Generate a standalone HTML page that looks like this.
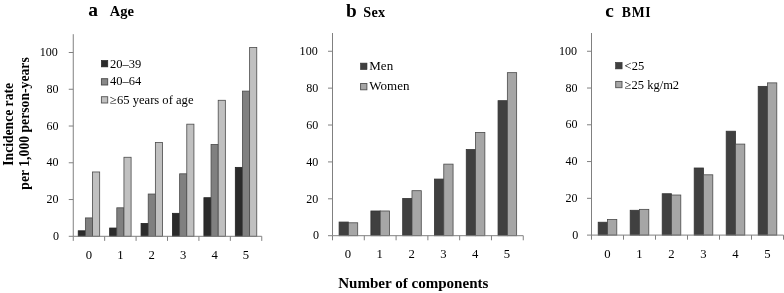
<!DOCTYPE html>
<html><head><meta charset="utf-8"><title>Incidence rate by number of components</title>
<style>
html,body{margin:0;padding:0;background:#fff;}
svg{display:block}
.t{font-family:"Liberation Serif",serif;font-size:12.7px;fill:#000;}
.l{font-family:"Liberation Serif",serif;font-size:12.5px;fill:#000;}
.b{font-family:"Liberation Serif",serif;font-weight:bold;fill:#000;}
</style></head><body>
<svg width="784" height="293" viewBox="0 0 784 293">
<rect width="784" height="293" fill="#fff"/>
<rect x="78.23" y="230.79" width="7.15" height="5.51" fill="#2b2b2b" stroke="#222" stroke-width="0.8"/>
<rect x="85.38" y="217.92" width="7.15" height="18.38" fill="#808080" stroke="#4a4a4a" stroke-width="0.8"/>
<rect x="92.53" y="171.97" width="7.15" height="64.33" fill="#c0c0c0" stroke="#4a4a4a" stroke-width="0.8"/>
<rect x="109.65" y="228.03" width="7.15" height="8.27" fill="#2b2b2b" stroke="#222" stroke-width="0.8"/>
<rect x="116.80" y="207.81" width="7.15" height="28.49" fill="#808080" stroke="#4a4a4a" stroke-width="0.8"/>
<rect x="123.95" y="157.27" width="7.15" height="79.03" fill="#c0c0c0" stroke="#4a4a4a" stroke-width="0.8"/>
<rect x="141.07" y="223.43" width="7.15" height="12.87" fill="#2b2b2b" stroke="#222" stroke-width="0.8"/>
<rect x="148.22" y="194.03" width="7.15" height="42.27" fill="#808080" stroke="#4a4a4a" stroke-width="0.8"/>
<rect x="155.37" y="142.56" width="7.15" height="93.74" fill="#c0c0c0" stroke="#4a4a4a" stroke-width="0.8"/>
<rect x="172.48" y="213.33" width="7.15" height="22.98" fill="#2b2b2b" stroke="#222" stroke-width="0.8"/>
<rect x="179.63" y="173.81" width="7.15" height="62.49" fill="#808080" stroke="#4a4a4a" stroke-width="0.8"/>
<rect x="186.78" y="124.18" width="7.15" height="112.12" fill="#c0c0c0" stroke="#4a4a4a" stroke-width="0.8"/>
<rect x="203.90" y="197.70" width="7.15" height="38.60" fill="#2b2b2b" stroke="#222" stroke-width="0.8"/>
<rect x="211.05" y="144.40" width="7.15" height="91.90" fill="#808080" stroke="#4a4a4a" stroke-width="0.8"/>
<rect x="218.20" y="100.29" width="7.15" height="136.01" fill="#c0c0c0" stroke="#4a4a4a" stroke-width="0.8"/>
<rect x="235.32" y="167.38" width="7.15" height="68.92" fill="#2b2b2b" stroke="#222" stroke-width="0.8"/>
<rect x="242.47" y="91.10" width="7.15" height="145.20" fill="#808080" stroke="#4a4a4a" stroke-width="0.8"/>
<rect x="249.62" y="47.54" width="7.15" height="188.76" fill="#c0c0c0" stroke="#4a4a4a" stroke-width="0.8"/>
<line x1="73.25" y1="34.2" x2="73.25" y2="236.3" stroke="#808080" stroke-width="1"/>
<line x1="73.25" y1="236.3" x2="261.75" y2="236.3" stroke="#808080" stroke-width="1"/>
<line x1="68.75" y1="236.30" x2="73.25" y2="236.30" stroke="#808080" stroke-width="1"/>
<text x="59.10" y="240.00" text-anchor="end" class="t" textLength="6.03" lengthAdjust="spacingAndGlyphs">0</text>
<line x1="68.75" y1="199.54" x2="73.25" y2="199.54" stroke="#808080" stroke-width="1"/>
<text x="58.45" y="203.24" text-anchor="end" class="t" textLength="12.06" lengthAdjust="spacingAndGlyphs">20</text>
<line x1="68.75" y1="162.78" x2="73.25" y2="162.78" stroke="#808080" stroke-width="1"/>
<text x="58.45" y="166.48" text-anchor="end" class="t" textLength="12.06" lengthAdjust="spacingAndGlyphs">40</text>
<line x1="68.75" y1="126.02" x2="73.25" y2="126.02" stroke="#808080" stroke-width="1"/>
<text x="58.45" y="129.72" text-anchor="end" class="t" textLength="12.06" lengthAdjust="spacingAndGlyphs">60</text>
<line x1="68.75" y1="89.26" x2="73.25" y2="89.26" stroke="#808080" stroke-width="1"/>
<text x="58.45" y="92.96" text-anchor="end" class="t" textLength="12.06" lengthAdjust="spacingAndGlyphs">80</text>
<line x1="68.75" y1="52.50" x2="73.25" y2="52.50" stroke="#808080" stroke-width="1"/>
<text x="57.80" y="56.20" text-anchor="end" class="t" textLength="18.10" lengthAdjust="spacingAndGlyphs">100</text>
<line x1="73.25" y1="236.3" x2="73.25" y2="240.9" stroke="#808080" stroke-width="1"/>
<line x1="104.67" y1="236.3" x2="104.67" y2="240.9" stroke="#808080" stroke-width="1"/>
<line x1="136.08" y1="236.3" x2="136.08" y2="240.9" stroke="#808080" stroke-width="1"/>
<line x1="167.50" y1="236.3" x2="167.50" y2="240.9" stroke="#808080" stroke-width="1"/>
<line x1="198.92" y1="236.3" x2="198.92" y2="240.9" stroke="#808080" stroke-width="1"/>
<line x1="230.33" y1="236.3" x2="230.33" y2="240.9" stroke="#808080" stroke-width="1"/>
<line x1="261.75" y1="236.3" x2="261.75" y2="240.9" stroke="#808080" stroke-width="1"/>
<text x="88.96" y="259.30" text-anchor="middle" class="t">0</text>
<text x="120.38" y="259.30" text-anchor="middle" class="t">1</text>
<text x="151.79" y="259.30" text-anchor="middle" class="t">2</text>
<text x="183.21" y="259.30" text-anchor="middle" class="t">3</text>
<text x="214.62" y="259.30" text-anchor="middle" class="t">4</text>
<text x="246.04" y="259.30" text-anchor="middle" class="t">5</text>
<rect x="339.10" y="222.05" width="9.30" height="13.65" fill="#404040" stroke="#333" stroke-width="0.8"/>
<rect x="348.40" y="222.79" width="9.30" height="12.91" fill="#a6a6a6" stroke="#4a4a4a" stroke-width="0.8"/>
<rect x="370.89" y="210.98" width="9.30" height="24.72" fill="#404040" stroke="#333" stroke-width="0.8"/>
<rect x="380.19" y="210.98" width="9.30" height="24.72" fill="#a6a6a6" stroke="#4a4a4a" stroke-width="0.8"/>
<rect x="402.68" y="198.44" width="9.30" height="37.26" fill="#404040" stroke="#333" stroke-width="0.8"/>
<rect x="411.98" y="190.69" width="9.30" height="45.01" fill="#a6a6a6" stroke="#4a4a4a" stroke-width="0.8"/>
<rect x="434.47" y="179.07" width="9.30" height="56.63" fill="#404040" stroke="#333" stroke-width="0.8"/>
<rect x="443.77" y="164.13" width="9.30" height="71.57" fill="#a6a6a6" stroke="#4a4a4a" stroke-width="0.8"/>
<rect x="466.26" y="149.56" width="9.30" height="86.14" fill="#404040" stroke="#333" stroke-width="0.8"/>
<rect x="475.56" y="132.41" width="9.30" height="103.29" fill="#a6a6a6" stroke="#4a4a4a" stroke-width="0.8"/>
<rect x="498.05" y="100.68" width="9.30" height="135.02" fill="#404040" stroke="#333" stroke-width="0.8"/>
<rect x="507.35" y="72.65" width="9.30" height="163.05" fill="#a6a6a6" stroke="#4a4a4a" stroke-width="0.8"/>
<line x1="332.5" y1="33" x2="332.5" y2="235.7" stroke="#808080" stroke-width="1"/>
<line x1="332.5" y1="235.7" x2="523.25" y2="235.7" stroke="#808080" stroke-width="1"/>
<line x1="328.0" y1="235.70" x2="332.5" y2="235.70" stroke="#808080" stroke-width="1"/>
<text x="319.00" y="239.40" text-anchor="end" class="t" textLength="6.03" lengthAdjust="spacingAndGlyphs">0</text>
<line x1="328.0" y1="198.81" x2="332.5" y2="198.81" stroke="#808080" stroke-width="1"/>
<text x="318.35" y="202.51" text-anchor="end" class="t" textLength="12.06" lengthAdjust="spacingAndGlyphs">20</text>
<line x1="328.0" y1="161.92" x2="332.5" y2="161.92" stroke="#808080" stroke-width="1"/>
<text x="318.35" y="165.62" text-anchor="end" class="t" textLength="12.06" lengthAdjust="spacingAndGlyphs">40</text>
<line x1="328.0" y1="125.03" x2="332.5" y2="125.03" stroke="#808080" stroke-width="1"/>
<text x="318.35" y="128.73" text-anchor="end" class="t" textLength="12.06" lengthAdjust="spacingAndGlyphs">60</text>
<line x1="328.0" y1="88.14" x2="332.5" y2="88.14" stroke="#808080" stroke-width="1"/>
<text x="318.35" y="91.84" text-anchor="end" class="t" textLength="12.06" lengthAdjust="spacingAndGlyphs">80</text>
<line x1="328.0" y1="51.25" x2="332.5" y2="51.25" stroke="#808080" stroke-width="1"/>
<text x="317.70" y="54.95" text-anchor="end" class="t" textLength="18.10" lengthAdjust="spacingAndGlyphs">100</text>
<line x1="332.50" y1="235.7" x2="332.50" y2="240.29999999999998" stroke="#808080" stroke-width="1"/>
<line x1="364.29" y1="235.7" x2="364.29" y2="240.29999999999998" stroke="#808080" stroke-width="1"/>
<line x1="396.08" y1="235.7" x2="396.08" y2="240.29999999999998" stroke="#808080" stroke-width="1"/>
<line x1="427.88" y1="235.7" x2="427.88" y2="240.29999999999998" stroke="#808080" stroke-width="1"/>
<line x1="459.67" y1="235.7" x2="459.67" y2="240.29999999999998" stroke="#808080" stroke-width="1"/>
<line x1="491.46" y1="235.7" x2="491.46" y2="240.29999999999998" stroke="#808080" stroke-width="1"/>
<line x1="523.25" y1="235.7" x2="523.25" y2="240.29999999999998" stroke="#808080" stroke-width="1"/>
<text x="348.00" y="258.10" text-anchor="middle" class="t">0</text>
<text x="379.79" y="258.10" text-anchor="middle" class="t">1</text>
<text x="411.58" y="258.10" text-anchor="middle" class="t">2</text>
<text x="443.37" y="258.10" text-anchor="middle" class="t">3</text>
<text x="475.16" y="258.10" text-anchor="middle" class="t">4</text>
<text x="506.95" y="258.10" text-anchor="middle" class="t">5</text>
<rect x="598.20" y="222.23" width="9.30" height="12.87" fill="#404040" stroke="#333" stroke-width="0.8"/>
<rect x="607.50" y="219.47" width="9.30" height="15.63" fill="#a6a6a6" stroke="#4a4a4a" stroke-width="0.8"/>
<rect x="630.20" y="210.28" width="9.30" height="24.82" fill="#404040" stroke="#333" stroke-width="0.8"/>
<rect x="639.50" y="209.36" width="9.30" height="25.74" fill="#a6a6a6" stroke="#4a4a4a" stroke-width="0.8"/>
<rect x="662.20" y="193.73" width="9.30" height="41.37" fill="#404040" stroke="#333" stroke-width="0.8"/>
<rect x="671.50" y="195.02" width="9.30" height="40.08" fill="#a6a6a6" stroke="#4a4a4a" stroke-width="0.8"/>
<rect x="694.20" y="167.99" width="9.30" height="67.11" fill="#404040" stroke="#333" stroke-width="0.8"/>
<rect x="703.50" y="174.80" width="9.30" height="60.30" fill="#a6a6a6" stroke="#4a4a4a" stroke-width="0.8"/>
<rect x="726.20" y="131.22" width="9.30" height="103.88" fill="#404040" stroke="#333" stroke-width="0.8"/>
<rect x="735.50" y="144.09" width="9.30" height="91.01" fill="#a6a6a6" stroke="#4a4a4a" stroke-width="0.8"/>
<rect x="758.20" y="86.37" width="9.30" height="148.73" fill="#404040" stroke="#333" stroke-width="0.8"/>
<rect x="767.50" y="82.87" width="9.30" height="152.23" fill="#a6a6a6" stroke="#4a4a4a" stroke-width="0.8"/>
<line x1="591.5" y1="33" x2="591.5" y2="235.1" stroke="#808080" stroke-width="1"/>
<line x1="591.5" y1="235.1" x2="783.5" y2="235.1" stroke="#808080" stroke-width="1"/>
<line x1="587.0" y1="235.10" x2="591.5" y2="235.10" stroke="#808080" stroke-width="1"/>
<text x="578.30" y="238.80" text-anchor="end" class="t" textLength="6.03" lengthAdjust="spacingAndGlyphs">0</text>
<line x1="587.0" y1="198.33" x2="591.5" y2="198.33" stroke="#808080" stroke-width="1"/>
<text x="577.65" y="202.03" text-anchor="end" class="t" textLength="12.06" lengthAdjust="spacingAndGlyphs">20</text>
<line x1="587.0" y1="161.56" x2="591.5" y2="161.56" stroke="#808080" stroke-width="1"/>
<text x="577.65" y="165.26" text-anchor="end" class="t" textLength="12.06" lengthAdjust="spacingAndGlyphs">40</text>
<line x1="587.0" y1="124.79" x2="591.5" y2="124.79" stroke="#808080" stroke-width="1"/>
<text x="577.65" y="128.49" text-anchor="end" class="t" textLength="12.06" lengthAdjust="spacingAndGlyphs">60</text>
<line x1="587.0" y1="88.02" x2="591.5" y2="88.02" stroke="#808080" stroke-width="1"/>
<text x="577.65" y="91.72" text-anchor="end" class="t" textLength="12.06" lengthAdjust="spacingAndGlyphs">80</text>
<line x1="587.0" y1="51.25" x2="591.5" y2="51.25" stroke="#808080" stroke-width="1"/>
<text x="577.00" y="54.95" text-anchor="end" class="t" textLength="18.10" lengthAdjust="spacingAndGlyphs">100</text>
<line x1="591.50" y1="235.1" x2="591.50" y2="239.7" stroke="#808080" stroke-width="1"/>
<line x1="623.50" y1="235.1" x2="623.50" y2="239.7" stroke="#808080" stroke-width="1"/>
<line x1="655.50" y1="235.1" x2="655.50" y2="239.7" stroke="#808080" stroke-width="1"/>
<line x1="687.50" y1="235.1" x2="687.50" y2="239.7" stroke="#808080" stroke-width="1"/>
<line x1="719.50" y1="235.1" x2="719.50" y2="239.7" stroke="#808080" stroke-width="1"/>
<line x1="751.50" y1="235.1" x2="751.50" y2="239.7" stroke="#808080" stroke-width="1"/>
<line x1="783.50" y1="235.1" x2="783.50" y2="239.7" stroke="#808080" stroke-width="1"/>
<text x="607.50" y="257.50" text-anchor="middle" class="t">0</text>
<text x="639.50" y="257.50" text-anchor="middle" class="t">1</text>
<text x="671.50" y="257.50" text-anchor="middle" class="t">2</text>
<text x="703.50" y="257.50" text-anchor="middle" class="t">3</text>
<text x="735.50" y="257.50" text-anchor="middle" class="t">4</text>
<text x="767.50" y="257.50" text-anchor="middle" class="t">5</text>
<text x="88.2" y="16.3" class="b" style="font-size:19.5px">a</text>
<text x="109.7" y="16" class="b" style="font-size:14.5px">Age</text>
<text x="346" y="17.3" class="b" style="font-size:19.3px">b</text>
<text x="363.3" y="17.3" class="b" style="font-size:14.2px;letter-spacing:0.25px">Sex</text>
<text x="605.2" y="17.4" class="b" style="font-size:19.3px">c</text>
<text x="621.8" y="17.3" class="b" style="font-size:13.7px;letter-spacing:0.7px">BMI</text>
<text transform="translate(12.6,124.35) rotate(-90)" text-anchor="middle" class="b" style="font-size:13.6px">Incidence rate</text>
<text transform="translate(28.5,123.45) rotate(-90)" text-anchor="middle" class="b" style="font-size:13.7px">per 1,000 person-years</text>
<text x="413.3" y="288" text-anchor="middle" class="b" style="font-size:15.05px">Number of components</text>
<!-- legends -->
<rect x="101.3" y="60.4" width="6.5" height="6.5" fill="#2b2b2b" stroke="#222" stroke-width="0.6"/>
<text x="110" y="68" class="l">20–39</text>
<rect x="101.4" y="78.7" width="6.3" height="6.3" fill="#888" stroke="#484848" stroke-width="0.9"/>
<text x="110" y="85.4" class="l">40–64</text>
<rect x="101.4" y="96.7" width="6.3" height="6.3" fill="#c0c0c0" stroke="#555" stroke-width="0.9"/>
<text x="110" y="104.4" class="l" style="font-size:12.6px">≥65 years of age</text>
<rect x="360.5" y="63.1" width="6.5" height="6.5" fill="#404040" stroke="#333" stroke-width="0.6"/>
<text x="369.3" y="70" class="l" style="font-size:13px">Men</text>
<rect x="360.6" y="83.5" width="6.3" height="6.3" fill="#a6a6a6" stroke="#505050" stroke-width="0.9"/>
<text x="369.3" y="90.3" class="l" style="font-size:13px">Women</text>
<rect x="615.6" y="62.4" width="6.5" height="6.5" fill="#404040" stroke="#333" stroke-width="0.6"/>
<text x="624.6" y="69.6" class="l">&lt;25</text>
<rect x="615.7" y="81.4" width="6.3" height="6.3" fill="#a6a6a6" stroke="#505050" stroke-width="0.9"/>
<text x="624.7" y="89" class="l">≥25 kg/m2</text>

</svg>
</body></html>
